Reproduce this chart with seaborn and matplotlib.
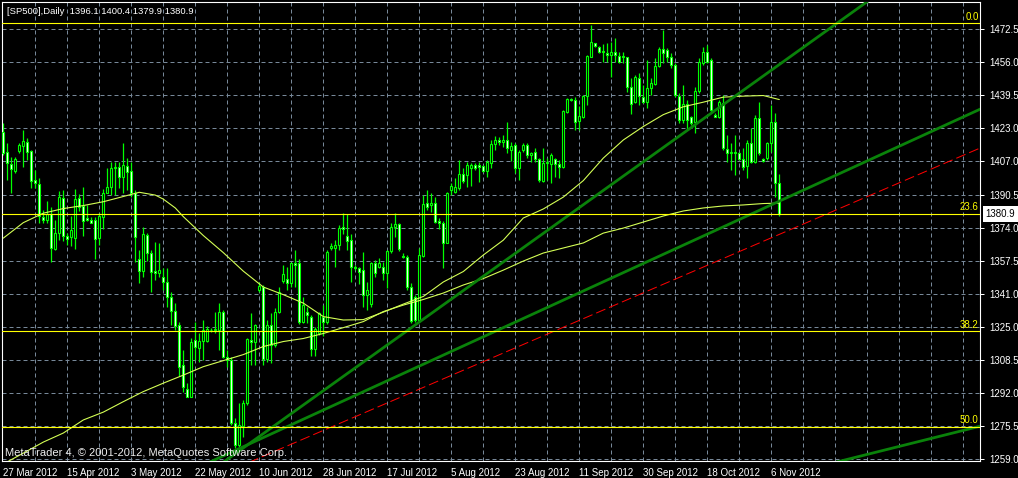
import numpy as np
import pandas as pd
import matplotlib
matplotlib.use("Agg")
import matplotlib.pyplot as plt
import seaborn as sns

# ---------------- data ----------------
opens = [
    1421.6, 1411.6, 1405.4, 1402.2, 1412.0, 1414.6, 1416.3, 1412.0, 1397.6, 1395.6,
    1379.3, 1377.7, 1380.7, 1363.1, 1371.4, 1388.5, 1369.7, 1369.2, 1368.6, 1388.5,
    1384.7, 1378.7, 1377.7, 1377.7, 1368.6, 1379.3, 1391.3, 1394.2, 1403.5, 1404.2,
    1398.9, 1404.5, 1402.0, 1391.3, 1358.2, 1352.5, 1370.1, 1361.1, 1352.2, 1351.5,
    1349.5, 1347.0, 1339.5, 1332.6, 1325.5, 1305.6, 1293.5, 1289.8, 1318.0, 1313.9,
    1317.7, 1317.7, 1323.2, 1323.0, 1323.0, 1332.1, 1309.7, 1308.1, 1276.6, 1265.8,
    1275.3, 1286.6, 1318.0, 1317.2, 1342.9, 1344.5, 1308.4, 1325.5, 1315.5, 1332.1,
    1347.5, 1348.2, 1346.5, 1356.2, 1356.2, 1327.1, 1332.1, 1329.6, 1313.4, 1321.4,
    1329.6, 1327.0, 1364.0, 1363.6, 1365.3, 1374.1, 1369.7, 1367.7, 1354.5, 1353.7,
    1352.8, 1340.4, 1335.9, 1356.2, 1354.5, 1354.5, 1351.5, 1362.4, 1374.0, 1375.5,
    1360.0, 1359.4, 1344.5, 1339.5, 1328.0, 1360.0, 1386.3, 1385.4, 1386.0, 1377.0,
    1376.3, 1366.4, 1392.6, 1391.8, 1393.5, 1400.6, 1400.1, 1403.4, 1404.9, 1405.0,
    1404.5, 1402.2, 1406.2, 1415.5, 1417.5, 1416.6, 1417.5, 1412.5, 1415.0, 1403.4,
    1412.5, 1415.0, 1410.0, 1411.6, 1407.9, 1397.2, 1406.2, 1405.5, 1407.9, 1405.5,
    1404.2, 1431.5, 1437.7, 1437.4, 1427.0, 1429.0, 1439.3, 1458.9, 1465.5, 1463.9,
    1461.7, 1460.9, 1459.7, 1461.4, 1459.2, 1459.2, 1458.6, 1444.0, 1436.5, 1448.1,
    1438.7, 1436.5, 1443.2, 1445.3, 1454.2, 1462.6, 1462.3, 1458.9, 1454.8, 1439.3,
    1427.4, 1435.4, 1428.8, 1426.6, 1442.0, 1455.6, 1461.4, 1457.3, 1429.9, 1428.7,
    1435.7, 1412.8, 1410.9, 1411.6, 1411.1, 1407.9, 1404.5, 1415.8, 1406.7, 1428.3,
    1407.9, 1408.4, 1415.8, 1426.6, 1396.1,
]
highs = [
    1425.8, 1415.8, 1409.2, 1409.2, 1415.8, 1422.4, 1418.3, 1412.5, 1402.5, 1398.4,
    1382.7, 1387.3, 1384.3, 1377.7, 1392.3, 1392.6, 1371.1, 1379.7, 1392.9, 1390.6,
    1393.9, 1385.1, 1379.0, 1379.0, 1381.0, 1392.9, 1403.4, 1406.7, 1406.7, 1406.7,
    1415.8, 1408.4, 1406.7, 1392.6, 1362.8, 1374.1, 1371.1, 1362.8, 1366.9, 1366.4,
    1353.7, 1353.7, 1342.0, 1336.3, 1327.1, 1313.1, 1296.5, 1318.9, 1327.1, 1321.4,
    1328.0, 1325.0, 1324.1, 1332.1, 1336.3, 1332.9, 1313.1, 1309.7, 1279.1, 1286.6,
    1288.2, 1318.9, 1331.3, 1326.0, 1347.0, 1345.4, 1328.0, 1331.3, 1333.8, 1344.5,
    1355.3, 1354.5, 1357.0, 1362.8, 1358.5, 1339.5, 1334.6, 1330.5, 1324.5, 1332.1,
    1335.4, 1362.8, 1366.1, 1367.7, 1375.2, 1381.0, 1380.7, 1370.6, 1355.3, 1354.5,
    1361.9, 1347.0, 1357.0, 1358.0, 1358.8, 1357.0, 1362.8, 1376.1, 1381.0, 1376.1,
    1361.4, 1360.3, 1346.2, 1340.4, 1363.6, 1390.1, 1392.6, 1391.0, 1389.3, 1378.5,
    1377.0, 1391.8, 1395.9, 1398.4, 1407.5, 1403.4, 1406.7, 1405.9, 1405.9, 1406.7,
    1405.0, 1407.5, 1417.5, 1419.4, 1419.1, 1420.0, 1426.6, 1416.6, 1416.0, 1412.5,
    1415.8, 1415.8, 1411.6, 1413.3, 1408.4, 1413.3, 1408.4, 1410.9, 1408.4, 1407.5,
    1432.4, 1438.2, 1438.2, 1439.0, 1434.4, 1439.8, 1459.7, 1474.6, 1465.5, 1464.2,
    1465.2, 1465.5, 1466.3, 1468.0, 1461.4, 1461.4, 1458.9, 1448.1, 1449.8, 1450.6,
    1444.8, 1457.3, 1448.1, 1458.1, 1463.9, 1472.2, 1463.1, 1460.6, 1456.0, 1440.7,
    1444.8, 1437.4, 1429.4, 1444.0, 1458.1, 1463.9, 1464.7, 1458.2, 1430.7, 1437.4,
    1439.8, 1420.0, 1415.8, 1420.0, 1411.6, 1413.3, 1417.5, 1423.4, 1429.9, 1436.5,
    1408.4, 1416.6, 1434.9, 1431.0, 1400.4,
]
lows = [
    1410.0, 1397.6, 1391.3, 1400.9, 1410.9, 1403.9, 1407.5, 1393.5, 1393.5, 1376.1,
    1376.1, 1376.1, 1357.0, 1362.8, 1367.7, 1367.4, 1365.3, 1364.8, 1363.4, 1382.3,
    1369.7, 1377.2, 1376.1, 1358.4, 1365.3, 1373.1, 1391.0, 1390.1, 1390.1, 1393.5,
    1391.0, 1392.6, 1389.0, 1357.0, 1346.2, 1349.5, 1357.5, 1342.0, 1347.9, 1349.5,
    1342.9, 1334.6, 1325.5, 1323.0, 1300.1, 1292.3, 1289.5, 1289.5, 1308.1, 1307.2,
    1308.1, 1317.2, 1322.2, 1321.4, 1313.1, 1308.9, 1304.8, 1275.8, 1264.2, 1265.0,
    1269.9, 1285.7, 1305.6, 1305.6, 1342.0, 1305.6, 1307.2, 1306.4, 1314.7, 1331.3,
    1346.2, 1342.9, 1344.5, 1344.5, 1326.0, 1326.4, 1326.3, 1310.0, 1310.0, 1320.5,
    1320.0, 1326.0, 1362.8, 1354.5, 1362.8, 1370.6, 1362.8, 1347.0, 1353.0, 1346.0,
    1334.6, 1332.9, 1334.6, 1349.5, 1353.7, 1347.9, 1343.8, 1361.1, 1369.4, 1362.4,
    1358.9, 1342.9, 1326.5, 1327.1, 1327.1, 1359.5, 1382.7, 1381.8, 1376.1, 1373.0,
    1354.0, 1366.1, 1390.1, 1391.0, 1392.6, 1395.9, 1394.2, 1394.5, 1402.5, 1396.7,
    1401.7, 1399.2, 1403.4, 1412.5, 1415.0, 1414.1, 1410.9, 1407.0, 1400.9, 1397.6,
    1411.6, 1408.4, 1406.7, 1406.7, 1396.7, 1396.7, 1397.6, 1395.9, 1399.2, 1398.4,
    1403.4, 1430.7, 1436.9, 1422.4, 1422.4, 1428.3, 1434.9, 1458.9, 1463.9, 1460.6,
    1456.4, 1456.4, 1448.9, 1456.4, 1455.6, 1455.6, 1441.5, 1430.4, 1435.7, 1434.9,
    1435.7, 1433.2, 1439.8, 1444.8, 1453.9, 1455.6, 1456.4, 1453.1, 1438.7, 1425.8,
    1425.8, 1422.4, 1424.9, 1420.8, 1440.7, 1454.8, 1455.6, 1431.5, 1428.7, 1428.3,
    1412.5, 1406.7, 1402.5, 1400.1, 1407.5, 1402.5, 1398.4, 1406.2, 1405.9, 1410.0,
    1406.7, 1407.5, 1411.6, 1389.3, 1379.9,
]
closes = [
    1410.9, 1405.9, 1402.9, 1407.9, 1414.8, 1416.8, 1411.6, 1397.2, 1395.9, 1379.7,
    1377.7, 1380.7, 1363.6, 1371.1, 1389.0, 1369.7, 1368.4, 1372.7, 1388.0, 1384.3,
    1377.3, 1377.7, 1376.3, 1368.1, 1379.7, 1391.0, 1394.2, 1403.4, 1404.2, 1399.2,
    1405.0, 1401.7, 1391.0, 1369.1, 1352.5, 1370.7, 1361.4, 1352.0, 1351.5, 1352.8,
    1347.0, 1339.2, 1332.6, 1325.0, 1304.8, 1294.5, 1289.8, 1317.2, 1314.7, 1317.7,
    1323.0, 1323.3, 1323.0, 1323.3, 1332.1, 1309.7, 1308.1, 1276.6, 1265.8, 1275.8,
    1286.6, 1318.4, 1317.2, 1325.5, 1344.9, 1308.4, 1325.5, 1315.5, 1332.1, 1342.0,
    1350.8, 1346.5, 1356.2, 1355.5, 1327.1, 1335.4, 1330.5, 1313.4, 1323.3, 1331.3,
    1327.1, 1361.9, 1364.9, 1365.3, 1373.6, 1373.1, 1367.4, 1354.2, 1353.7, 1352.0,
    1340.4, 1342.9, 1356.2, 1351.2, 1356.2, 1351.5, 1362.4, 1374.4, 1375.5, 1363.1,
    1359.4, 1344.5, 1327.6, 1328.0, 1360.3, 1385.6, 1384.3, 1386.3, 1376.8, 1376.3,
    1366.4, 1391.0, 1394.6, 1393.9, 1400.4, 1397.2, 1405.0, 1405.0, 1403.4, 1403.9,
    1402.2, 1406.7, 1415.5, 1417.5, 1416.6, 1417.5, 1413.3, 1414.5, 1403.4, 1411.6,
    1415.0, 1410.0, 1411.1, 1407.9, 1397.6, 1405.9, 1406.7, 1410.0, 1405.5, 1404.2,
    1432.0, 1437.7, 1437.4, 1426.6, 1429.4, 1439.3, 1459.2, 1466.0, 1464.2, 1461.4,
    1461.1, 1459.6, 1461.4, 1459.7, 1456.4, 1458.9, 1444.0, 1435.4, 1448.6, 1439.3,
    1436.5, 1443.2, 1445.7, 1454.2, 1462.6, 1460.6, 1458.9, 1454.7, 1439.8, 1427.4,
    1435.4, 1427.4, 1426.1, 1442.0, 1456.4, 1461.4, 1456.4, 1432.4, 1429.0, 1436.5,
    1413.3, 1410.9, 1411.6, 1410.9, 1407.9, 1404.2, 1415.8, 1406.7, 1428.3, 1410.9,
    1407.2, 1415.8, 1426.6, 1396.3, 1380.9,
]

# moving averages (bar index, value)
ma_fast_idx = [0, 5, 10, 15, 20, 25, 30, 34, 38, 40, 43, 45, 50, 55, 60, 65, 70, 75, 80, 85,
               90, 95, 100, 105, 110, 115, 120, 125, 130, 135, 140, 145, 150, 155, 160, 165,
               170, 175, 180, 185, 190, 194]
ma_fast_val = [1368.7, 1376.4, 1381.1, 1383.4, 1384.9, 1386.8, 1389.4, 1391.5, 1390.1, 1388.1,
               1383.7, 1379.4, 1370.0, 1361.5, 1352.3, 1344.4, 1340.6, 1336.4, 1329.7, 1328.0,
               1328.2, 1331.9, 1335.9, 1339.7, 1346.9, 1352.1, 1360.3, 1367.7, 1378.7, 1383.2,
               1389.1, 1397.3, 1408.5, 1417.5, 1424.2, 1430.1, 1434.0, 1436.3, 1438.8, 1439.3,
               1439.6, 1437.6]
ma_slow_idx = [0, 5, 10, 15, 20, 25, 30, 35, 40, 45, 50, 55, 60, 65, 70, 75, 80, 85, 90, 95,
               100, 105, 110, 115, 120, 125, 130, 135, 140, 145, 150, 155, 160, 165, 170, 175,
               180, 185, 190, 194]
ma_slow_val = [1256.4, 1261.8, 1267.3, 1271.8, 1278.3, 1282.2, 1287.4, 1292.4, 1296.6, 1300.6,
               1304.8, 1307.8, 1310.8, 1314.8, 1317.3, 1318.8, 1321.3, 1324.2, 1327.2, 1332.2,
               1335.4, 1338.2, 1341.4, 1345.4, 1348.6, 1352.8, 1357.3, 1361.3, 1363.8, 1366.3,
               1371.2, 1373.7, 1376.7, 1379.7, 1382.2, 1383.7, 1384.7, 1385.2, 1385.9, 1386.1]

# trend lines: two anchor points (bar index, price) each
trend_steep = [(60, 1264.4), (140, 1378.2)]
trend_mid = [(60, 1265.0), (160, 1356.1)]
trend_red = [(100, 1290.2), (240, 1409.9)]
trend_low = [(214, 1260.2), (244, 1275.1)]

# Fibonacci retracement
fib_high = 1475.5
fib_low = 1074.6
fib_levels = [0.0, 23.6, 38.2, 50.0]
fib_labels = ["0.0", "23.6", "38.2", "50.0"]

date_ticks = [0, 16, 32, 48, 64, 80, 96, 112, 128, 144, 160, 176, 192]
date_labels = ["27 Mar 2012", "15 Apr 2012", "3 May 2012", "22 May 2012", "10 Jun 2012",
               "28 Jun 2012", "17 Jul 2012", "5 Aug 2012", "23 Aug 2012", "11 Sep 2012",
               "30 Sep 2012", "18 Oct 2012", "6 Nov 2012"]
price_labels = ["1259.0", "1275.5", "1292.0", "1308.5", "1325.0", "1341.0", "1357.5",
                "1374.0", "1390.5", "1407.0", "1423.0", "1439.5", "1456.0", "1472.5"]
symbol = "[SP500],Daily"
last_price = closes[-1]

# ---------------- styling ----------------
sns.set_theme(style="dark", rc={
    "axes.facecolor": "black", "figure.facecolor": "black",
    "axes.edgecolor": "white", "text.color": "white",
    "xtick.color": "white", "ytick.color": "white",
    "axes.grid": False,
})
plt.rcParams["font.family"] = ["Liberation Sans", "DejaVu Sans"]

W, H = 1018, 478
fig = plt.figure(figsize=(W / 100, H / 100), dpi=100, facecolor="black")
ax = fig.add_axes([2 / W, 17 / H, 978 / W, 459 / H])
ax.set_facecolor("black")

LIME = "#00FF00"
GRID = "#778899"
MA_C = "#D4FF55"
TREND = "#0A820A"
FS = 7.0

n = len(opens)
x = np.arange(n)
df = pd.DataFrame({"x": x, "o": opens, "h": highs, "l": lows, "c": closes})

# grid
price_ticks = np.linspace(1259.0, 1472.5, len(price_labels))
for p in price_ticks:
    ax.axhline(p, color=GRID, lw=0.72, ls=(0, (4, 3)), zorder=0)
for k in range(1, 31):
    ax.axvline(8 * k - 0.075, color=GRID, lw=0.72, ls=(0, (4, 3)), zorder=0)

# candles
ax.vlines(df["x"], df["l"], df["h"], color=LIME, lw=0.9, zorder=2)
bottoms = np.minimum(df["o"], df["c"])
heights = np.maximum(np.abs(df["c"] - df["o"]), 0.15)
fills = np.where(df["c"] >= df["o"], "black", "white")
ax.bar(df["x"], heights, bottom=bottoms, width=0.55, color=fills,
       edgecolor=LIME, linewidth=0.8, zorder=3)

# moving averages
sns.lineplot(x=ma_slow_idx, y=ma_slow_val, ax=ax, color=MA_C, lw=0.8, legend=False, zorder=4)
sns.lineplot(x=ma_fast_idx, y=ma_fast_val, ax=ax, color=MA_C, lw=0.8, legend=False, zorder=4)

# trend lines (rays to the right)
def ray(anchors, x0, x1):
    (a1, p1), (a2, p2) = anchors
    s = (p2 - p1) / (a2 - a1)
    return [x0, x1], [p1 + s * (x0 - a1), p1 + s * (x1 - a1)]

for anc, x0 in [(trend_steep, 40), (trend_mid, 40)]:
    xs, ys = ray(anc, x0, 260)
    ax.plot(xs, ys, color=TREND, lw=2.0, zorder=5, solid_capstyle="butt")
xs, ys = ray(trend_low, 195, 260)
ax.plot(xs, ys, color=TREND, lw=2.0, zorder=5)
xs, ys = ray(trend_red, 40, 260)
ax.plot(xs, ys, color="#FF0000", lw=0.72, ls=(0, (10, 4)), zorder=5)

# fibonacci levels
for lvl, lab in zip(fib_levels, fib_labels):
    p = fib_high - lvl / 100.0 * (fib_high - fib_low)
    ax.axhline(p, color="#FFFF00", lw=0.8, zorder=5)
    ax.annotate(lab, xy=(1, p), xycoords=("axes fraction", "data"), xytext=(-1.0, 1),
                textcoords="offset points", ha="right", va="bottom", color="#FFFF00",
                fontsize=FS, zorder=6)

# axes limits
ax.set_xlim(-0.325, 244.175)
ax.set_ylim(1257.9, 1486.1)
ax.set_xlabel("")
ax.set_ylabel("")

# price axis (right)
ax.yaxis.tick_right()
ax.set_yticks(price_ticks)
ax.set_yticklabels(price_labels)
ax.tick_params(axis="y", colors="white", length=3, width=0.72, pad=4, labelsize=FS)
# date axis
ax.set_xticks(date_ticks)
ax.set_xticklabels(date_labels, ha="left")
ax.tick_params(axis="x", colors="white", length=3, width=0.72, pad=2, labelsize=FS)
for lab in ax.get_xticklabels():
    lab.set_horizontalalignment("left")

for sp in ax.spines.values():
    sp.set_color("white")
    sp.set_linewidth(0.8)
    sp.set_visible(True)

# current price label
ax.annotate(f"{last_price:.1f}", xy=(1, last_price), xycoords=("axes fraction", "data"),
            xytext=(4, 0), textcoords="offset points", ha="left", va="center",
            color="black", fontsize=FS, zorder=10,
            bbox=dict(boxstyle="square,pad=0.3", facecolor="white", edgecolor="none"),
            annotation_clip=False)

# header and footer texts
title = f"{symbol}  {opens[-1]:.1f} {highs[-1]:.1f} {lows[-1]:.1f} {closes[-1]:.1f}"
fig.text(7 / W, 1 - 11 / H, title, ha="left", va="center", color="white", fontsize=6.8)
fig.text(5 / W, 1 - 453 / H, "MetaTrader 4, \u00a9 2001-2012, MetaQuotes Software Corp.",
         ha="left", va="center", color="#EDEDED", fontsize=8, zorder=10)

fig.savefig("out.png", dpi=100, facecolor="black")
